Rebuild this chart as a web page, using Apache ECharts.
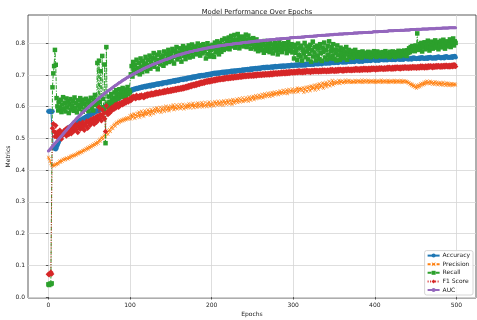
<!DOCTYPE html>
<html>
<head>
<meta charset="utf-8">
<script src="https://cdn.jsdelivr.net/npm/echarts@6/dist/echarts.min.js"></script>
<style>html,body{margin:0;padding:0;background:#fff}#chart{width:477px;height:320px}</style>
</head>
<body>
<div id="chart"></div>
<script>
// Values in thousandths, one per epoch (0..499)
const EPOCH_COUNT = 500;
const X_TICKS = [0, 100, 200, 300, 400, 500];
const Y_TICKS = [0, 0.1, 0.2, 0.3, 0.4, 0.5, 0.6, 0.7, 0.8];
const SERIES_NAMES = ['Accuracy', 'Precision', 'Recall', 'F1 Score', 'AUC'];

const accuracy = [
586,584,587,585,583,586,472,468,475,466,
470,478,484,490,497,503,507,512,515,520,
518,525,523,530,528,535,533,538,540,537,
545,542,548,546,551,549,553,556,552,558,
560,557,563,561,566,564,568,570,567,573,
576,572,579,577,581,578,584,582,587,585,
589,586,592,590,595,593,597,599,596,601,
603,600,606,604,609,607,611,614,612,617,
619,617,623,621,626,628,625,631,633,630,
636,634,639,641,638,644,646,643,648,650,
652,649,654,651,656,653,657,655,659,656,
660,657,661,659,663,660,664,662,665,661,
666,663,667,665,668,664,669,667,670,666,
671,668,672,670,673,669,674,672,675,671,
676,673,677,675,678,674,679,677,680,676,
681,678,682,680,683,679,684,682,685,681,
686,683,687,685,688,684,689,687,690,686,
691,688,692,690,693,689,694,692,695,691,
696,693,697,695,698,694,699,697,700,696,
700,697,701,699,702,698,703,701,704,700,
705,702,706,704,707,703,707,705,708,704,
708,706,709,707,710,706,710,708,711,707,
711,709,712,710,713,709,713,711,714,710,
714,712,715,713,716,712,716,714,717,713,
717,715,718,716,719,715,719,717,720,716,
720,718,721,719,722,718,722,720,723,719,
723,721,724,722,725,721,725,723,726,722,
725,723,726,724,727,723,727,725,728,724,
727,725,728,726,729,725,729,727,730,726,
729,727,730,728,731,727,731,729,732,728,
731,729,732,730,733,729,733,731,734,730,
732,730,733,731,734,730,735,733,736,732,
734,732,735,733,736,732,737,735,738,734,
736,734,737,735,738,734,739,737,740,736,
738,736,739,737,740,736,741,739,742,738,
740,738,741,739,742,738,743,741,744,740,
741,739,742,740,743,739,744,742,745,741,
743,741,744,742,745,741,746,744,747,743,
744,742,745,743,746,742,747,745,748,744,
746,744,747,745,748,744,749,747,750,746,
747,745,748,746,749,745,750,748,751,747,
748,746,749,747,750,746,751,749,752,748,
749,747,750,748,751,747,752,750,753,749,
750,748,751,749,752,748,753,751,754,750,
751,749,752,750,753,749,754,752,755,751,
752,750,753,751,754,750,755,753,756,752,
753,751,754,752,755,751,756,754,757,753,
754,752,755,753,756,752,757,755,758,754,
755,753,756,754,757,753,758,756,759,755,
756,754,757,755,758,754,759,757,760,756
];

const precision = [
441,436,429,421,416,414,417,413,416,419,
418,422,420,426,429,425,431,428,434,432,
436,433,439,437,435,441,438,444,440,446,
443,448,445,450,447,452,455,451,457,454,
459,456,462,460,465,462,468,465,471,467,
474,470,477,473,480,476,483,479,486,482,
489,485,493,497,491,500,504,498,507,511,
505,515,519,513,524,528,522,533,537,531,
541,545,539,548,551,546,554,550,557,553,
559,555,561,557,563,559,565,561,566,562,
572,561,575,566,570,578,563,574,568,580,
571,583,566,577,586,572,580,569,588,576,
584,575,590,579,586,573,592,581,587,578,
594,583,589,597,584,592,586,598,582,595,
590,599,585,596,602,588,594,600,587,597,
603,592,598,606,590,600,595,605,593,601,
597,607,594,602,598,608,593,604,599,596,
606,598,610,601,596,607,603,611,597,605,
601,609,598,612,604,600,610,603,613,599,
608,602,614,605,600,611,606,615,601,609,
604,614,607,602,616,609,612,605,618,608,
613,606,617,610,604,619,611,615,608,620,
612,618,609,621,614,607,623,615,611,620,
617,624,613,620,626,615,622,618,628,616,
623,619,629,621,626,617,631,624,620,630,
626,633,622,629,635,625,632,628,637,627,
634,630,639,628,636,641,631,638,633,643,
637,632,642,636,645,634,640,646,638,643,
641,647,638,644,650,640,646,643,652,642,
648,644,653,641,650,655,645,651,647,656,
650,645,655,648,653,659,646,657,651,654,
657,651,660,645,658,653,662,648,661,655,
663,650,666,656,664,658,668,652,667,660,
670,655,672,661,668,664,675,658,673,666,
677,662,674,669,680,665,676,671,683,668,
678,672,681,674,677,676,683,673,680,678,
682,675,679,677,684,676,681,678,683,677,
680,676,682,677,679,678,683,676,681,679,
682,677,680,678,684,676,681,679,683,677,
681,678,683,676,680,679,682,677,681,678,
683,676,680,679,682,677,681,678,684,676,
680,679,682,677,681,678,683,676,680,679,
682,677,681,678,683,676,680,679,682,677,
681,678,683,676,680,679,682,677,681,678,
679,674,676,670,673,667,671,664,668,661,
665,658,667,661,669,663,672,666,674,668,
677,670,679,673,681,675,678,672,680,674,
678,671,676,670,679,673,677,669,675,671,
676,669,674,668,677,670,673,667,675,669,
674,667,672,668,673,666,671,669,672,668
];

const recall = [
40,38,42,41,43,661,705,728,779,732,
627,601,588,615,595,622,583,607,630,592,
612,585,626,598,617,580,609,624,591,603,
618,587,629,596,611,582,620,605,593,627,
600,614,584,622,608,591,625,597,613,586,
619,603,628,594,610,588,623,637,605,612,
738,602,745,615,712,598,760,625,590,733,
485,788,610,598,632,615,604,640,621,612,
628,645,619,652,633,641,626,655,637,648,
631,659,642,636,654,628,647,662,639,651,
645,702,728,695,741,715,733,706,748,722,
716,738,702,752,725,709,744,731,718,757,
735,712,748,727,761,720,742,755,731,769,
726,752,739,764,718,747,771,733,756,744,
761,729,774,748,737,766,752,779,741,760,
770,745,782,757,736,775,763,788,749,771,
757,784,766,742,779,791,760,773,750,786,
777,762,793,755,781,769,796,758,785,772,
790,765,778,799,771,786,761,794,780,768,
797,774,788,752,783,800,766,791,758,779,
762,795,784,757,802,771,789,806,778,765,
801,786,773,810,792,779,815,797,783,808,
794,818,781,805,823,790,811,799,826,786,
812,797,829,803,784,817,795,821,808,790,
815,802,827,788,810,824,796,813,783,807,
798,816,788,805,781,812,794,775,803,790,
786,801,778,795,770,807,783,792,776,799,
789,772,805,781,796,768,792,784,800,777,
794,765,788,803,779,797,772,790,785,800,
782,796,769,788,806,775,793,780,797,771,
788,752,795,770,781,747,799,763,785,758,
792,745,780,768,801,756,774,790,749,783,
766,795,742,779,805,758,771,788,746,792,
761,784,750,797,769,744,786,773,802,755,
778,749,791,763,806,752,775,789,760,797,
751,780,768,746,793,762,777,748,786,770,
759,782,753,774,765,788,748,771,779,757,
768,761,776,754,771,764,779,758,769,763,
757,772,763,768,755,774,761,766,770,759,
765,758,773,762,767,756,771,764,760,775,
762,769,757,774,766,760,771,763,768,758,
772,761,767,775,759,770,764,768,756,773,
766,760,774,763,769,757,772,765,761,776,
768,759,775,764,770,762,777,766,773,760,
778,769,784,772,788,776,791,780,786,775,
793,782,831,788,779,797,785,801,774,792,
789,803,781,796,785,808,791,777,799,787,
805,783,797,790,809,786,800,794,781,804,
792,808,787,799,811,795,783,806,797,790,
803,796,812,788,807,799,815,793,806,801
];

const f1Score = [
72,70,75,78,73,532,546,521,506,541,
515,503,521,508,526,512,498,519,511,524,
517,529,508,533,520,512,536,524,515,530,
538,522,531,545,527,540,519,535,548,529,
543,533,551,538,526,547,540,555,532,549,
556,541,560,549,553,564,545,558,567,551,
571,559,598,563,575,556,590,568,579,562,
522,603,583,575,589,580,594,586,598,591,
600,593,606,597,603,609,598,611,604,607,
614,606,617,610,620,612,618,623,615,621,
626,619,630,624,633,627,631,625,636,629,
632,627,635,629,637,631,634,628,638,632,
639,633,641,635,640,636,643,637,642,638,
644,639,646,640,645,641,648,642,647,643,
649,644,651,645,650,646,653,647,652,648,
654,649,655,650,656,651,657,652,658,653,
659,654,660,655,661,656,662,657,664,659,
665,660,667,662,668,663,670,665,671,666,
672,667,674,669,675,670,677,672,678,673,
679,674,681,676,682,677,683,678,684,679,
685,680,686,681,687,682,688,683,689,684,
690,685,690,686,691,686,692,687,693,688,
693,688,694,689,695,690,695,690,696,691,
696,691,697,692,698,693,698,693,699,694,
699,694,700,695,700,695,701,696,701,696,
701,696,702,697,702,697,703,698,703,698,
703,698,704,699,704,699,705,700,705,700,
705,700,706,701,706,701,707,702,707,702,
707,702,708,703,708,703,709,704,709,704,
709,704,710,705,710,705,711,706,711,706,
711,706,712,707,712,707,713,708,713,708,
712,707,713,708,713,708,714,709,714,709,
713,708,714,709,714,709,715,710,715,710,
714,709,715,710,715,710,716,711,716,711,
715,710,716,711,716,711,717,712,717,712,
716,711,717,712,717,712,718,713,718,713,
717,712,718,713,718,713,719,714,719,714,
718,713,719,714,719,714,720,715,720,715,
719,714,720,715,720,715,721,716,721,716,
720,715,721,716,721,716,722,717,722,717,
721,716,722,717,722,717,723,718,723,718,
722,717,723,718,723,718,724,719,724,719,
723,718,724,719,724,719,725,720,725,720,
724,719,725,720,725,720,726,721,726,721,
725,720,726,721,726,721,727,722,727,722,
726,721,727,722,727,722,728,723,728,723,
727,722,728,723,728,723,729,724,729,724,
728,723,729,724,729,724,730,725,730,725,
729,724,730,725,730,725,731,726,731,726,
730,725,731,726,731,726,732,727,732,727
];

const auc = [
460,463,466,469,472,475,478,481,484,487,
490,493,496,499,502,505,508,511,514,517,
520,523,526,529,532,535,538,541,544,547,
550,553,555,558,561,564,566,569,572,574,
577,579,582,584,587,589,591,594,596,599,
601,603,605,608,610,612,614,616,619,621,
623,625,627,629,631,634,636,638,640,642,
644,646,648,650,652,653,655,657,659,661,
663,665,667,668,670,672,674,676,677,679,
681,683,684,686,687,689,691,692,694,695,
697,698,700,701,703,704,705,707,708,710,
711,712,714,715,716,718,719,720,721,723,
724,725,726,727,728,730,731,732,733,734,
735,736,737,738,739,740,741,742,743,744,
745,746,747,748,749,749,750,751,752,753,
755,756,757,758,758,759,760,761,762,763,
763,764,765,766,766,767,768,769,769,770,
771,771,772,773,773,774,775,775,776,777,
777,778,778,779,779,780,781,781,782,782,
783,783,784,784,785,785,786,786,787,787,
788,788,788,789,789,790,790,791,791,791,
792,792,793,793,793,794,794,795,795,795,
796,796,796,797,797,797,798,798,798,799,
799,799,800,800,800,801,801,801,802,802,
802,803,803,803,803,804,804,804,805,805,
805,805,806,806,806,807,807,807,807,808,
808,808,808,809,809,809,809,810,810,810,
810,811,811,811,811,812,812,812,812,813,
813,813,813,813,814,814,814,814,815,815,
815,815,816,816,816,816,817,817,817,817,
818,818,818,818,818,819,819,819,819,819,
820,820,820,820,820,821,821,821,821,821,
822,822,822,822,822,823,823,823,823,823,
824,824,824,824,824,825,825,825,825,825,
826,826,826,826,826,827,827,827,827,827,
828,828,828,828,828,828,829,829,829,829,
829,829,830,830,830,830,830,830,831,831,
831,831,831,831,832,832,832,832,832,832,
833,833,833,833,833,833,834,834,834,834,
834,834,835,835,835,835,835,835,836,836,
836,836,836,836,836,837,837,837,837,837,
837,838,838,838,838,838,838,839,839,839,
839,839,839,839,840,840,840,840,840,840,
840,841,841,841,841,841,841,842,842,842,
842,842,842,842,843,843,843,843,843,843,
843,844,844,844,844,844,844,844,845,845,
845,845,845,845,845,845,846,846,846,846,
846,846,846,846,846,847,847,847,847,847,
847,847,847,848,848,848,848,848,848,848,
848,849,849,849,849,849,849,849,849,849
];

const epochs = Array.from({length: EPOCH_COUNT}, (_, i) => i);
const toPairs = arr => epochs.map((e, i) => [e, arr[i] / 1000]);

const COLORS = ['#1f77b4', '#ff7f0e', '#2ca02c', '#d62728', '#9467bd'];
const X_SYMBOL = 'path://M1,0L5,4L9,0L10,1L6,5L10,9L9,10L5,6L1,10L0,9L4,5L0,1Z';
const FONT = 'DejaVu Sans';

const seriesDefs = [
  {data: accuracy, symbol: 'circle', size: 4.5, line: 'solid', width: 1},
  {data: precision, symbol: X_SYMBOL, size: 3.5, line: [3, 1.5], width: 1},
  {data: recall, symbol: 'rect', size: 4.5, line: [4, 1.5, 1, 1.5], width: 1},
  {data: f1Score, symbol: 'diamond', size: 5.5, line: [1, 1.5], width: 1},
  {data: auc, symbol: 'circle', size: 3, line: 'solid', width: 2.5}
];

const chart = echarts.init(document.getElementById('chart'), null, {renderer: 'canvas'});
chart.setOption({
  animation: false,
  backgroundColor: '#ffffff',
  color: COLORS,
  title: {
    text: 'Model Performance Over Epochs',
    left: 252, top: 4, textAlign: 'center',
    textStyle: {fontFamily: FONT, fontSize: 6.8, fontWeight: 'normal', color: '#222'}
  },
  grid: {left: 28, right: 1, top: 15, bottom: 22, show: true, borderColor: '#333', borderWidth: 0.8,
    backgroundColor: 'transparent', containLabel: false, outerBoundsMode: 'none'},
  legend: {
    orient: 'vertical', right: 4, bottom: 25,
    itemWidth: 12, itemHeight: 5, itemGap: 2.6,
    padding: [2, 3, 2, 2],
    backgroundColor: 'rgba(255,255,255,0.85)', borderColor: '#cccccc', borderWidth: 0.8, borderRadius: 2,
    textStyle: {fontFamily: FONT, fontSize: 6, color: '#222', lineHeight: 5, padding: [0, 0, 0, -2]},
    data: SERIES_NAMES
  },
  xAxis: {
    type: 'value', min: -25, max: 524,
    name: 'Epochs', nameLocation: 'middle', nameGap: 13, nameMoveOverlap: false,
    nameTextStyle: {fontFamily: FONT, fontSize: 6, color: '#222'},
    axisLine: {show: false},
    axisTick: {show: true, length: 2.5, lineStyle: {color: '#333', width: 0.8}, customValues: X_TICKS},
    axisLabel: {fontFamily: FONT, fontSize: 6, color: '#222', margin: 4, customValues: X_TICKS},
    splitLine: {show: true, lineStyle: {color: '#d6d6d6', width: 0.8}}
  },
  yAxis: {
    type: 'value', min: -0.003, max: 0.889,
    name: 'Metrics', nameLocation: 'middle', nameGap: 17, nameMoveOverlap: false,
    nameTextStyle: {fontFamily: FONT, fontSize: 6, color: '#222'},
    axisLine: {show: false},
    axisTick: {show: true, length: 2.5, lineStyle: {color: '#333', width: 0.8}, customValues: Y_TICKS},
    axisLabel: {fontFamily: FONT, fontSize: 6, color: '#222', margin: 3, customValues: Y_TICKS,
      formatter: v => v.toFixed(1)},
    splitLine: {show: true, lineStyle: {color: '#d6d6d6', width: 0.8}}
  },
  series: seriesDefs.map((d, i) => ({
    name: SERIES_NAMES[i],
    type: 'line',
    data: toPairs(d.data),
    symbol: d.symbol,
    symbolSize: d.size,
    showSymbol: true,
    showAllSymbol: true,
    clip: true,
    z: 2 + i,
    lineStyle: {type: d.line, width: d.width, color: COLORS[i]},
    itemStyle: {color: COLORS[i]},
    emphasis: {disabled: true}
  }))
});
</script>
</body>
</html>
